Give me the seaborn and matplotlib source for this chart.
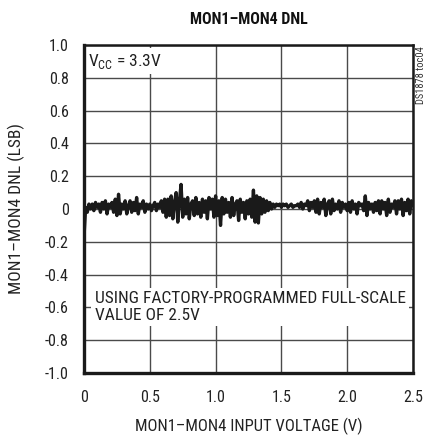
import matplotlib
matplotlib.use("Agg")
import matplotlib.pyplot as plt
from matplotlib import font_manager as fm
import seaborn as sns
import pandas as pd

# ---- data ----
x_step = 0.0125
dnl = [
    -0.17, 0.01, -0.02, 0.03, 0.00, 0.03, -0.01, 0.04, 0.01, 0.03,
    -0.02, 0.04, 0.00, 0.05, -0.03, 0.03, 0.01, 0.04, -0.02, 0.06,
    -0.04, 0.09, -0.03, 0.03, 0.00, 0.05, -0.03, 0.02, 0.05, -0.02,
    0.04, -0.01, 0.07, -0.03, 0.03, 0.01, 0.05, -0.02, 0.03, 0.00,
    0.03, -0.01, 0.02, 0.04, -0.01, 0.03, 0.01, 0.05, -0.02, 0.06,
    -0.05, 0.06, -0.04, 0.08, -0.06, 0.04, 0.10, -0.08, 0.05, 0.15,
    -0.05, 0.06, -0.03, 0.07, -0.06, 0.03, 0.05, -0.04, 0.07, -0.03,
    0.04, -0.05, 0.06, -0.02, 0.05, -0.06, 0.07, 0.00, 0.06, -0.05,
    0.08, -0.04, 0.05, -0.10, 0.07, -0.03, 0.06, -0.02, 0.04, -0.05,
    0.07, -0.04, 0.03, 0.05, -0.07, 0.06, -0.02, 0.04, -0.06, 0.05,
    -0.03, 0.06, -0.05, 0.115, -0.08, 0.08, -0.085, 0.07, -0.03, 0.06,
    -0.02, 0.05, -0.01, 0.04, 0.00, 0.03, 0.01, 0.03, 0.02, 0.03,
    0.01, 0.03, 0.02, 0.03, 0.01, 0.02, 0.03, 0.01, 0.02, 0.02,
    0.03, 0.01, 0.04, 0.00, 0.03, 0.02, 0.05, -0.01, 0.04, 0.01,
    0.05, -0.02, 0.06, -0.03, 0.04, 0.01, 0.06, -0.04, 0.03, 0.05,
    -0.03, 0.06, -0.01, 0.03, 0.00, 0.05, -0.02, 0.04, 0.01, 0.03,
    -0.01, 0.04, -0.02, 0.05, 0.00, 0.03, -0.03, 0.04, 0.02, 0.03,
    -0.01, 0.08, -0.04, 0.04, 0.00, 0.03, -0.02, 0.04, -0.01, 0.05,
    -0.03, 0.05, 0.00, 0.04, -0.04, 0.06, -0.02, 0.03, 0.01, 0.05,
    -0.03, 0.05, 0.00, 0.06, -0.04, 0.04, -0.01, 0.06, -0.03, 0.05,
    0.02,
]
voltage = [round(i * x_step, 4) for i in range(len(dnl))]

x_ticks = [0, 0.5, 1.0, 1.5, 2.0, 2.5]
x_tick_labels = ["0", "0.5", "1.0", "1.5", "2.0", "2.5"]
y_ticks = [-1.0, -0.8, -0.6, -0.4, -0.2, 0, 0.2, 0.4, 0.6, 0.8, 1.0]
y_tick_labels = ["-1.0", "-0.8", "-0.6", "-0.4", "-0.2", "0", "0.2", "0.4", "0.6", "0.8", "1.0"]

title = "MON1–MON4 DNL"
x_label = "MON1–MON4 INPUT VOLTAGE (V)"
y_label = "MON1–MON4 DNL (LSB)"
note_vcc = r"V$_{\mathregular{CC}}$ = 3.3V"
note_scale = "USING FACTORY-PROGRAMMED FULL-SCALE\nVALUE OF 2.5V"
doc_id = "DS1878 toc04"

df = pd.DataFrame({"voltage": voltage, "dnl": dnl})

sns.set_style("white")

# pick a narrow sans font if one is installed
fonts = fm.fontManager.ttflist
names = {f.name for f in fonts}
stretch = "normal"
if "Liberation Sans Narrow" in names:
    family = "Liberation Sans Narrow"
elif "Roboto Condensed" in names:
    family = "Roboto Condensed"
elif any(f.name == "DejaVu Sans" and str(f.stretch) in ("condensed", "semi-condensed") for f in fonts):
    family = "DejaVu Sans"
    stretch = "condensed"
elif "Roboto" in names:
    family = "Roboto"
else:
    family = "Liberation Sans"

plt.rcParams["font.family"] = [family, "DejaVu Sans"]
plt.rcParams["font.stretch"] = stretch
plt.rcParams["mathtext.fontset"] = "custom"
plt.rcParams["mathtext.rm"] = family

fig = plt.figure(figsize=(4.27, 4.36), dpi=100)
ax = fig.add_axes([84 / 427, 1 - 373 / 436, 329 / 427, 328 / 436])

sns.lineplot(data=df, x="voltage", y="dnl", ax=ax, color="#1a1a1a",
             linewidth=2.4, zorder=3)

ax.set_xlim(0, 2.5)
ax.set_ylim(-1.0, 1.0)
ax.set_xticks(x_ticks)
ax.set_xticklabels(x_tick_labels)
ax.set_yticks(y_ticks)
ax.set_yticklabels(y_tick_labels)
ax.tick_params(axis="both", length=0, labelsize=11.5, colors="#222222")
ax.tick_params(axis="x", pad=12.5)
ax.tick_params(axis="y", pad=11)
ax.grid(True, color="#4a4a4a", linewidth=1.0)
ax.set_axisbelow(True)
for side, lw in [("left", 2.4), ("bottom", 2.4), ("top", 1.8), ("right", 1.8)]:
    ax.spines[side].set_visible(True)
    ax.spines[side].set_color("#1a1a1a")
    ax.spines[side].set_linewidth(lw)

ax.set_xlabel(x_label, fontsize=12, color="#222222", labelpad=9)
ax.set_ylabel(y_label, fontsize=12.5, color="#222222", labelpad=14)
ax.set_title(title, fontsize=11.5, fontweight="bold", color="#111111", pad=15)

ax.text(0.03, 0.96, note_vcc, fontsize=12.5, color="#222222", va="top", ha="left",
        zorder=2, bbox=dict(facecolor="white", edgecolor="none", pad=2.5))
ax.text(0.08, -0.50, note_scale, fontsize=12.5, color="#222222", va="top", ha="left",
        linespacing=1.15, zorder=2,
        bbox=dict(facecolor="white", edgecolor="none", pad=2.5))

fig.text(421 / 427, 1 - 46 / 436, doc_id, rotation=90, fontsize=7.5,
         color="#333333", ha="center", va="top")

fig.savefig("out.png", dpi=100)
